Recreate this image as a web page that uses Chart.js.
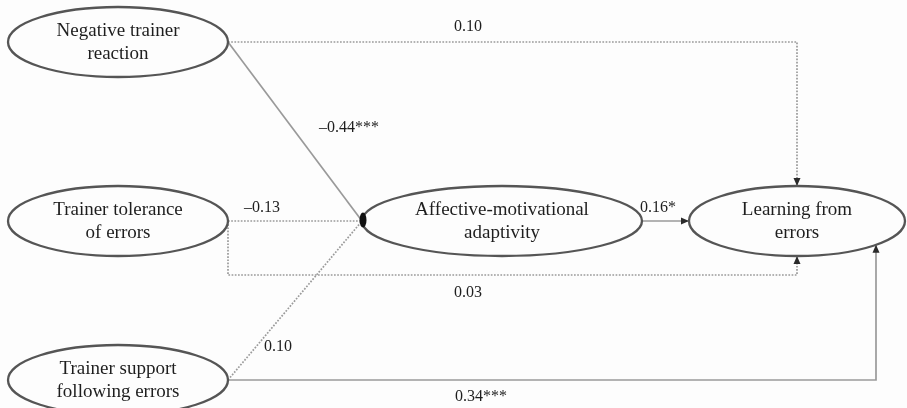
<!DOCTYPE html>
<html><head><meta charset="utf-8">
<script src="https://cdn.jsdelivr.net/npm/chart.js@4.4.1/dist/chart.umd.min.js"></script>
<style>
html,body{margin:0;padding:0;background:#fdfdfd;}
canvas{display:block;}
</style></head><body>
<canvas id="c" width="907" height="408"></canvas>
<script>
// ===== DATA =====
const nodeLabels=[["Negative trainer","reaction"],["Trainer tolerance","of errors"],["Trainer support","following errors"],["Affective-motivational","adaptivity"],["Learning from","errors"]];
const pathFrom=[0,0,1,1,2,2,3];
const pathTo=[3,4,3,4,3,4,4];
const pathCoef=["\u20130.44***","0.10","\u20130.13","0.03","0.10","0.34***","0.16*"];
const pathSig=[true,false,false,false,false,true,true];

// ===== LAYOUT (axis units) =====
const nodeX=[118,118,118,502,797];
const nodeY=[42,221,380,221,221];
const nodeRx=[110,110,110,140,108];
const nodeRy=35;
const route=["direct","over","direct","under","direct","side","direct"];
const labelX=[349,468,262,468,278,481,658];
const labelY=[128,27,208,293,347,397,208];
const laneUnder=275, sideOff=79;

const rightTip=i=>({x:nodeX[i]+nodeRx[i],y:nodeY[i]});
const leftTip=i=>({x:nodeX[i]-nodeRx[i],y:nodeY[i]});
function edgeY(i,x,below){
 const t=(x-nodeX[i])/nodeRx[i];
 const h=nodeRy*Math.sqrt(Math.max(0,1-t*t));
 return below?nodeY[i]+h:nodeY[i]-h;
}
function puntos(k){
 const a=pathFrom[k],b=pathTo[k],s=rightTip(a);
 if(route[k]=="direct") return [s,leftTip(b)];
 if(route[k]=="over") return [s,{x:nodeX[b],y:s.y},{x:nodeX[b],y:nodeY[b]-nodeRy}];
 if(route[k]=="under") return [s,{x:s.x,y:laneUnder},{x:nodeX[b],y:laneUnder},{x:nodeX[b],y:nodeY[b]+nodeRy}];
 const x=nodeX[b]+sideOff;
 return [s,{x:x,y:s.y},{x:x,y:edgeY(b,x,true)}];
}

const datasets=pathFrom.map((f,k)=>({
 type:"scatter",showLine:true,data:puntos(k),
 borderColor:"#9a9a9a",
 borderWidth:pathSig[k]?1.7:1.7,
 borderDash:pathSig[k]?[]:[1.7,1.5],
 pointRadius:0,fill:false
}));

// ===== DIAGRAM =====
const diagrama={
 id:"diagrama",
 afterDatasetsDraw(chart){
  const c=chart.ctx,X=chart.scales.x,Y=chart.scales.y;
  const px=v=>X.getPixelForValue(v),py=v=>Y.getPixelForValue(v);
  // arrows
  pathTo.forEach((b,k)=>{
   if(b!==4) return;
   const p=puntos(k),e=p[p.length-1],q=p[p.length-2];
   const x1=px(e.x),y1=py(e.y),x0=px(q.x),y0=py(q.y);
   const ang=Math.atan2(y1-y0,x1-x0);
   c.save();c.translate(x1,y1);c.rotate(ang);
   c.fillStyle="#2a2a2a";
   c.beginPath();c.moveTo(0,0);c.lineTo(-8,-3.5);c.lineTo(-8,3.5);c.closePath();c.fill();
   c.restore();
  });
  // ellipses
  nodeLabels.forEach((lab,i)=>{
   const cx=px(nodeX[i]),cy=py(nodeY[i]);
   const rx=Math.abs(px(nodeX[i]+nodeRx[i])-cx),ry=Math.abs(py(nodeY[i]+nodeRy)-cy);
   c.save();
   c.beginPath();c.ellipse(cx,cy,rx,ry,0,0,Math.PI*2);
   c.fillStyle="#fdfdfd";c.fill();
   c.lineWidth=2.3;c.strokeStyle="#555";c.stroke();
   c.fillStyle="#1e1e1e";c.font='19px "Liberation Serif"';
   c.textAlign="center";c.textBaseline="middle";
   c.fillText(lab[0],cx,cy-11);
   c.fillText(lab[1],cx,cy+12);
   c.restore();
  });
  // hub
  const h=leftTip(3);
  c.save();c.fillStyle="#111";
  c.beginPath();c.ellipse(px(h.x)+1,py(h.y)-1,3.5,7.5,0,0,Math.PI*2);c.fill();
  c.restore();
  // coefficients
  c.save();c.fillStyle="#1e1e1e";c.font='16px "Liberation Serif"';
  c.textAlign="center";c.textBaseline="middle";
  pathCoef.forEach((t,k)=>c.fillText(t,px(labelX[k]),py(labelY[k])));
  c.restore();
 }
};

new Chart(document.getElementById("c"),{
 type:"scatter",
 data:{datasets:datasets},
 options:{
  responsive:false,animation:false,
  layout:{padding:0},
  plugins:{legend:{display:false},tooltip:{enabled:false}},
  scales:{
   x:{type:"linear",min:0,max:907,display:false},
   y:{type:"linear",min:0,max:408,reverse:true,display:false}
  }
 },
 plugins:[diagrama]
});
</script>
</body></html>
